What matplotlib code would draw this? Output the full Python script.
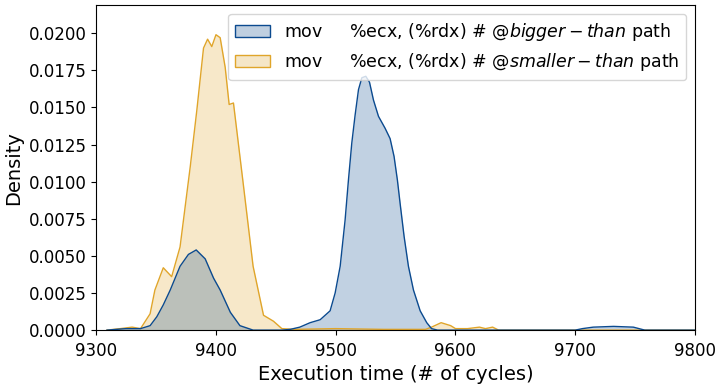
import matplotlib.pyplot as plt
from matplotlib.patches import Patch

# KDE curves of execution time, read at sample points (cycles, density)
bigger_x = [9309, 9325, 9337, 9345, 9350.6, 9356, 9361.8, 9370, 9377, 9383.5,
            9391, 9398, 9403.5, 9412, 9420, 9431, 9455, 9462, 9470, 9478.6,
            9487, 9495.3, 9499.5, 9503.7, 9507.8, 9510.6, 9513.4, 9516.2,
            9519, 9521.8, 9525.1, 9528.2, 9531.5, 9535.7, 9541.2, 9545.4,
            9548.7, 9551.5, 9553.8, 9557.1, 9560.7, 9564.9, 9570.5, 9576,
            9580, 9585, 9700, 9706, 9715, 9732, 9748.5, 9758, 9800]
bigger_y = [0, 0.0001, 0.0001, 0.0003, 0.0009, 0.0017, 0.0027, 0.0043, 0.0051,
            0.0054, 0.0048, 0.0035, 0.0027, 0.0012, 0.0003, 0.0, 0.0, 0.00005,
            0.0002, 0.0005, 0.0007, 0.0013, 0.0025, 0.0043, 0.0074, 0.0101,
            0.0126, 0.0145, 0.0162, 0.0170, 0.0171, 0.0167, 0.0155, 0.0144,
            0.0136, 0.0129, 0.0117, 0.0101, 0.0085, 0.0063, 0.0043, 0.0027,
            0.0013, 0.0005, 0.0001, 0.0, 0.0, 0.0001, 0.0002, 0.00025, 0.0002,
            0.0, 0]

smaller_x = [9309, 9320, 9330, 9337, 9345, 9349, 9356, 9363, 9370, 9378.5,
             9384, 9389.6, 9393, 9396.5, 9400, 9403.5, 9407.7, 9411, 9414.6,
             9423, 9431, 9439.7, 9448, 9455, 9465, 9500, 9540, 9575, 9580,
             9588, 9596, 9600, 9610, 9620, 9625, 9631, 9636, 9650, 9800]
smaller_y = [0, 0.0001, 0.0002, 0.0001, 0.0011, 0.0027, 0.0042, 0.0036, 0.0056,
             0.0110, 0.0148, 0.0190, 0.0196, 0.0191, 0.0199, 0.0197, 0.0177,
             0.0152, 0.0153, 0.0097, 0.0043, 0.0010, 0.0006, 0.0001, 0.00005,
             0.0001, 0.00005, 0.00005, 0.0002, 0.0005, 0.0003, 0.0001, 0.0001,
             0.0002, 0.0001, 0.0002, 0.0, 0.0, 0]

labels = ["mov     %ecx, (%rdx) # $@bigger-than$ path",
          "mov     %ecx, (%rdx) # $@smaller-than$ path"]
blue = "#0b4a8f"
orange = "#e0a52a"

fig, ax = plt.subplots(figsize=(7.18, 3.87), dpi=100)

ax.fill_between(smaller_x, smaller_y, color=orange, alpha=0.25, lw=0)
ax.plot(smaller_x, smaller_y, color=orange, lw=1)
ax.fill_between(bigger_x, bigger_y, color=blue, alpha=0.25, lw=0)
ax.plot(bigger_x, bigger_y, color=blue, lw=1)

ax.set_xlim(9300, 9800)
ax.set_ylim(0, 0.0219)
ax.set_yticks([i * 0.0025 for i in range(9)])
ax.yaxis.set_major_formatter(plt.FormatStrFormatter("%.4f"))
ax.tick_params(labelsize=12)
ax.tick_params(axis="x", pad=5)
ax.set_xlabel("Execution time (# of cycles)", fontsize=14, labelpad=4)
ax.set_ylabel("Density", fontsize=14, labelpad=4)

handles = [Patch(facecolor=(0.75, 0.81, 0.88), edgecolor=blue),
           Patch(facecolor=(0.96, 0.90, 0.78), edgecolor=orange)]
ax.legend(handles, labels, loc="upper right", fontsize=12.5)

fig.subplots_adjust(left=0.134, right=0.968, top=0.987, bottom=0.147)
fig.savefig("out.png", dpi=100)
